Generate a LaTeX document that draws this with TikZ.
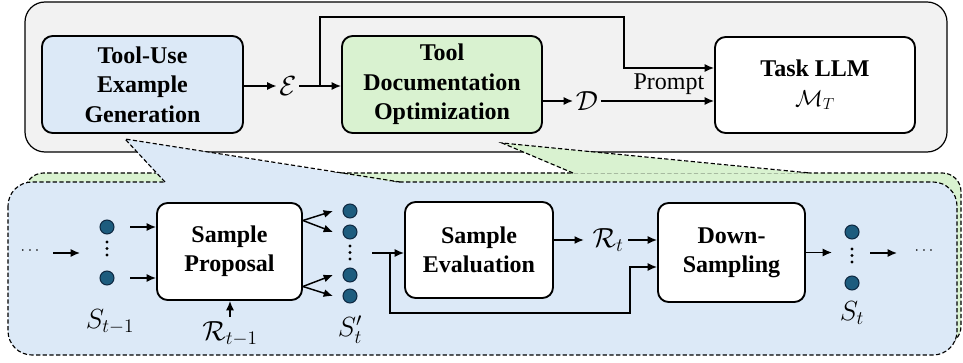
\documentclass[tikz,border=0pt]{standalone}
\usepackage{fontspec}
\setmainfont{Liberation Serif}
\usetikzlibrary{arrows.meta,calc}
\definecolor{panelgray}{HTML}{F2F2F2}
\definecolor{genblue}{HTML}{DCE9F7}
\definecolor{docgreen}{HTML}{D9F2D0}
\definecolor{dotfill}{HTML}{1D5C7E}
\definecolor{dotedge}{HTML}{0E2841}

\begin{document}
\begin{tikzpicture}[x=0.75pt,y=-0.75pt,
  font=\fontsize{18pt}{22pt}\selectfont,
  blk/.style={draw,line width=1.4pt,rounded corners=8pt,align=center,inner sep=0pt,
    font=\fontsize{18pt}{22pt}\selectfont\bfseries},
  arr/.style={line width=1.1pt,-{Latex[length=7pt,width=6pt]}},
  zone/.style={draw=black,line width=0.85pt,dash pattern=on 3.2pt off 1.8pt},
  sdot/.style={circle,draw=dotedge,fill=dotfill,line width=0.8pt,minimum size=10.5pt,inner sep=0pt},
  vdot/.style={circle,fill=black,minimum size=2.4pt,inner sep=0pt},
  ell/.style={font=\fontsize{13pt}{15pt}\selectfont,inner sep=0pt},
  sym/.style={font=\fontsize{19.5pt}{22pt}\selectfont}
]
\useasboundingbox (0,0) rectangle (963,363);

% ---------- upper panel ----------
\draw[fill=panelgray,line width=0.9pt,rounded corners=15pt] (25,2) rectangle (947,152);

\node[blk,fill=genblue,minimum width=150.75pt,minimum height=72.75pt] (gen) at (142.5,84.5)
  {Tool-Use\\Example\\Generation};
\node[blk,fill=docgreen,minimum width=150pt,minimum height=72.75pt] (doc) at (442,84.5)
  {Tool\\Documentation\\Optimization};
\node[blk,fill=white,minimum width=150pt,minimum height=72pt] (llm) at (815,85)
  {Task LLM\\$\mathcal{M}_T$};

\node[sym,inner sep=2pt] (E) at (288,86) {$\mathcal{E}$};
\node[sym,inner sep=2pt] (D) at (587,101) {$\mathcal{D}$};

\coordinate (split) at (320,86);
\coordinate (ridge) at (624,17);
\coordinate (tap) at (624,68);

\draw[arr] (gen.east |- E) -- (E.west);
\draw[arr] (E.east) -- (doc.west |- E);
\draw[arr] (split) |- (ridge) |- (llm.west |- tap);
\draw[arr] (doc.east |- D) -- (D.west);
\draw[arr] (D.east) -- node[pos=0.6,above=3pt,inner sep=1pt] (prompt) {Prompt} (llm.west |- D);

% ---------- lower panels ----------
\draw[zone,fill=docgreen,rounded corners=14pt] (25,173) rectangle (961,345);
\draw[zone,fill=genblue,rounded corners=18pt] (8,182) rectangle (957,355);

% zoom wedges
\fill[genblue] (125,139) -- (165,183) -- (400,183) -- cycle;
\draw[zone] (165,182) -- (125,139) -- (400,182);
\fill[docgreen] (502,143) -- (573,173.6) -- (810,173.6) -- cycle;
\draw[zone] (573,173) -- (502,143) -- (810,173);

% ---------- sampling loop ----------
\node[blk,fill=white,minimum width=108.75pt,minimum height=72.75pt] (prop) at (229.5,251.5)
  {Sample\\Proposal};
\node[blk,fill=white,minimum width=111pt,minimum height=72pt] (eval) at (479,250)
  {Sample\\Evaluation};
\node[blk,fill=white,minimum width=110.25pt,minimum height=74.25pt] (down) at (731.5,252.5)
  {Down-\\Sampling};

% previous sample set
\node[ell] (ldots) at (30,251) {$\cdots$};
\coordinate (inA) at (53,253);
\coordinate (inAend) at (80,253);
\draw[arr] (inA) -- (inAend);
\node[sdot] (a1) at (107,227) {};
\node[sdot] (a2) at (107,278) {};
\foreach \y [count=\i] in {242,248.5,255} \node[vdot] (av\i) at (107,\y) {};
\node[sym] (lblA) at (110,322) {$S_{t-1}$};
\draw[arr] ($(a1)+(23,0)$) -- (prop.west |- a1);
\draw[arr] ($(a2)+(23,0)$) -- (prop.west |- a2);

\node[sym] (rprev) at (230,334) {$\mathcal{R}_{t-1}$};
\draw[arr] (rprev.north) -- (prop.south -| rprev.north);

% proposed samples
\node[sdot] (b1) at (350,211) {};
\node[sdot] (b2) at (350,232) {};
\node[sdot] (b3) at (350,275) {};
\node[sdot] (b4) at (350,296) {};
\foreach \y [count=\i] in {246,252.5,259} \node[vdot] (bv\i) at (350,\y) {};
\node[sym] (lblB) at (350,330) {$S'_t$};

\coordinate (fanU) at ($(prop.east)+(0,-31)$);
\coordinate (fanL) at ($(prop.east)+(0,35)$);
\draw[arr] (fanU) -- ($(b1)+(-17,0)$);
\draw[arr] (fanU) -- ($(b2)+(-17,0)$);
\draw[arr] (fanL) -- ($(b3)+(-17,0)$);
\draw[arr] (fanL) -- ($(b4)+(-17,0)$);

\coordinate (outB) at (372,253);
\coordinate (forkB) at (390,253);
\coordinate (bendB) at (630,313);
\draw[arr] (outB) -- (eval.west |- outB);
\draw[arr] (forkB) |- (bendB) |- ($(down.west)+(0,14.5)$);

\node[sym] (rnow) at (608,240) {$\mathcal{R}_t$};
\draw[arr,shorten >=3pt] (eval.east |- rnow) -- (rnow.west);
\draw[arr] (rnow.east) -- (down.west |- rnow);

% new sample set
\coordinate (inC) at (832,252.5);
\draw[arr] (down.east) -- (inC);
\node[sdot] (c1) at (852,232) {};
\node[sdot] (c2) at (852,283) {};
\foreach \y [count=\i] in {249,255.5,262} \node[vdot] (cv\i) at (852,\y) {};
\node[sym] (lblC) at (852,313) {$S_t$};
\coordinate (outC) at (870,253);
\coordinate (outCend) at (897,253);
\draw[arr] (outC) -- (outCend);
\node[ell] (rdots) at (924,251) {$\cdots$};
\end{tikzpicture}
\end{document}
